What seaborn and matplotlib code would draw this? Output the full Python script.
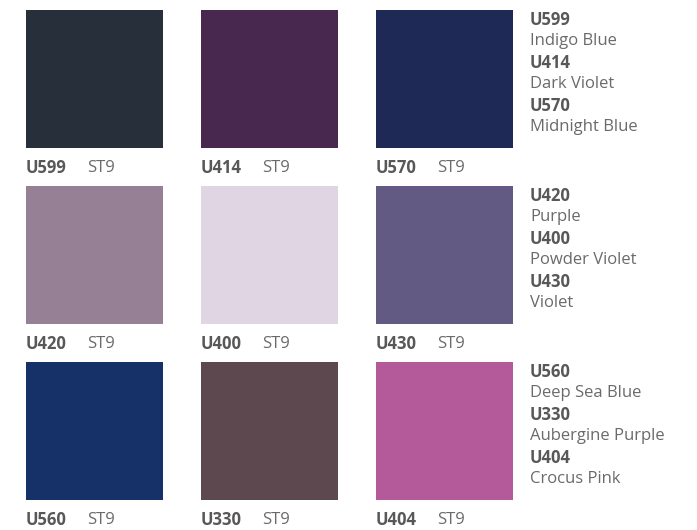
import matplotlib
matplotlib.use("Agg")
import matplotlib.pyplot as plt
import seaborn as sns

# swatch grid, row by row
codes = [["U599", "U414", "U570"],
         ["U420", "U400", "U430"],
         ["U560", "U330", "U404"]]
names = [["Indigo Blue", "Dark Violet", "Midnight Blue"],
         ["Purple", "Powder Violet", "Violet"],
         ["Deep Sea Blue", "Aubergine Purple", "Crocus Pink"]]
colours = [["#272f3b", "#48284e", "#1e2a55"],
           ["#968095", "#e0d6e3", "#625a83"],
           ["#163167", "#5c484e", "#b45a9a"]]
series = "ST9"

sns.set_theme(style="white")
plt.rcParams["font.family"] = ["Open Sans", "DejaVu Sans"]

W, H = 697, 530
fig = plt.figure(figsize=(W / 100, H / 100), dpi=100)
ax = fig.add_axes([0, 0, 1, 1])

# one data unit = one grid step (175 px across, 176 px down)
px, py = 175, 176
ax.set_xlim(-26 / px, (W - 26) / px)
ax.set_ylim((H - 10) / py, -10 / py)
ax.axis("off")

sw, sh = 137 / px, 138 / py
code_col = "#585858"
name_col = "#6a6a6a"
fs = 12

for r in range(3):
    for c in range(3):
        ax.bar(c, sh, bottom=r, width=sw, align="edge",
               color=colours[r][c], linewidth=0)
        ax.text(c, r + 158 / py, codes[r][c], color=code_col,
                fontsize=fs, fontweight="bold", va="center", ha="left")
        ax.text(c + 61 / px, r + 158 / py, series, color=name_col,
                fontsize=fs, va="center", ha="left")
    # legend column on the right
    for k in range(3):
        y0 = r + (10 + 43 * k) / py
        ax.text(3 - 21 / px, y0, codes[r][k], color=code_col,
                fontsize=fs, fontweight="bold", va="center", ha="left")
        ax.text(3 - 21 / px, y0 + 21.5 / py, names[r][k], color=name_col,
                fontsize=fs, va="center", ha="left")

fig.savefig("out.png", dpi=100)
